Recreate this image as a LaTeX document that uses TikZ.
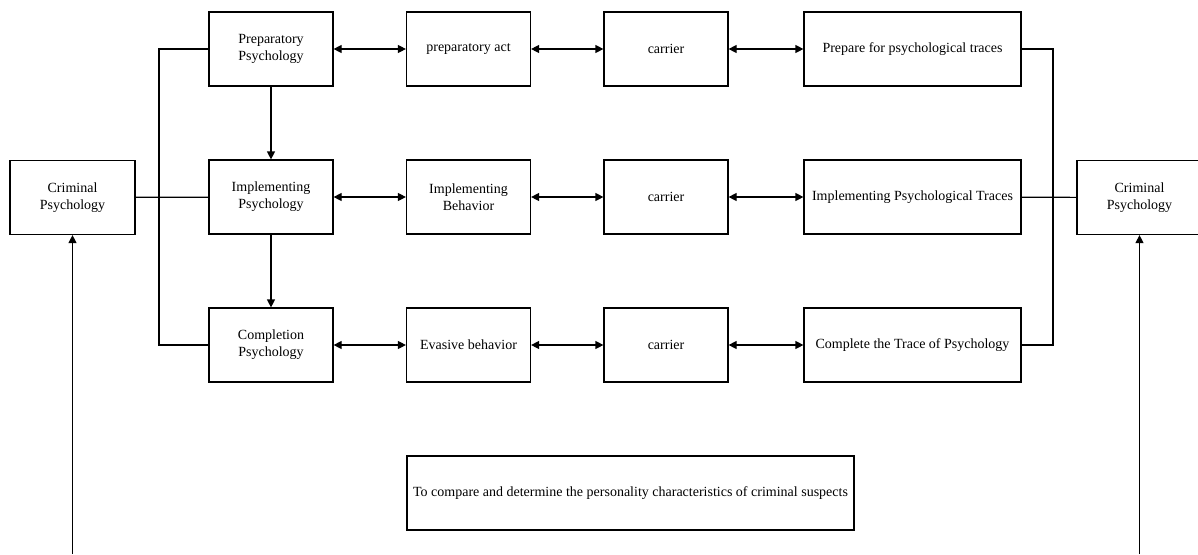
\documentclass[tikz,border=0pt]{standalone}
\usepackage{fontspec}
\setmainfont{Liberation Serif}
\usetikzlibrary{arrows.meta}

\begin{document}
\begin{tikzpicture}[x=1pt,y=-1pt,line width=1.2pt,
    font=\fontsize{14}{17}\selectfont,
    box/.style={draw,align=center,inner sep=0pt,minimum width=124pt,minimum height=74pt},
    wide/.style={box,minimum width=217pt},
    tip/.style={-{Triangle[length=8pt,width=8pt]}},
    both/.style={{Triangle[length=8pt,width=8pt]}-{Triangle[length=8pt,width=8pt]}}]
  \useasboundingbox (0,0) rectangle (1198,554);
  % Left-hand side
  \node[box,minimum width=125pt] (cpL) at (72.5,197.5) {Criminal\\Psychology};
  \node[box] (pp) at (271,49)  {Preparatory\\Psychology};
  \node[box] (ip) at (271,197) {Implementing\\Psychology};
  \node[box] (cp) at (271,345) {Completion\\Psychology};
  % Middle columns
  \node[box] (act) at (468.5,49)  {preparatory act};
  \node[box] (ib)  at (468.5,197) {Implementing\\Behavior};
  \node[box] (eb)  at (468.5,345) {Evasive behavior};
  \node[box] (car1) at (666,49)  {carrier};
  \node[box] (car2) at (666,197) {carrier};
  \node[box] (car3) at (666,345) {carrier};
  % Right-hand side
  \node[wide] (tr1) at (912.5,49)  {Prepare for psychological traces};
  \node[wide] (tr2) at (912.5,197) {Implementing Psychological Traces};
  \node[wide] (tr3) at (912.5,345) {Complete the Trace of Psychology};
  \node[box,minimum width=125pt] (cpR) at (1139.5,197.5) {Criminal\\Psychology};
  \node[box,minimum width=447pt] (goal) at (630.5,493)
        {To compare and determine the personality characteristics of criminal suspects};
  % Connectors
  \coordinate (jl) at (159,197);
  \coordinate (jr) at (1053,197);
  \coordinate (bl) at (72.5,554);
  \coordinate (br) at (1139.5,554);
  \draw (pp.west) -| (jl) |- (cp.west);
  \draw (cpL) -- (ip);
  \draw (tr1.east) -| (jr) |- (tr3.east);
  \draw (tr2) -- (cpR);
  \foreach \a/\b in {pp/act,act/car1,car1/tr1,ip/ib,ib/car2,car2/tr2,cp/eb,eb/car3,car3/tr3}
    \draw[both] (\a) -- (\b);
  \draw[tip] (pp) -- (ip);
  \draw[tip] (ip) -- (cp);
  \draw[tip] (bl) -- (cpL);
  \draw[tip] (br) -- (cpR);
\end{tikzpicture}
\end{document}
